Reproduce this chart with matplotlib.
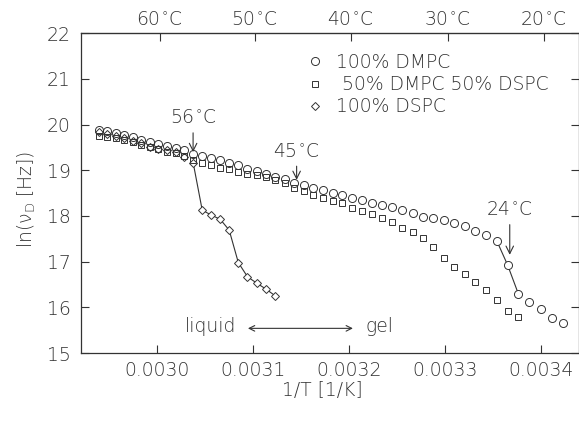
import numpy as np
import matplotlib
matplotlib.use("Agg")
import matplotlib.pyplot as plt

plt.rcParams['font.family'] = ['DejaVu Sans']
plt.rcParams['font.weight'] = 200
plt.rcParams['axes.labelweight'] = 200
plt.rcParams['mathtext.fontset'] = 'custom'
plt.rcParams['mathtext.rm'] = 'DejaVu Sans:weight=200'
plt.rcParams['mathtext.it'] = 'DejaVu Sans:italic:weight=200'

ink = '#333333'
fs = 13.5

# temperatures of each measured point (deg C), x axis is 1/T
temp_dmpc = [67, 66, 65, 64, 63, 62, 61, 60, 59, 58, 57, 56, 55, 54, 53, 52, 51,
             50, 49, 48, 47, 46, 45, 44, 43, 42, 41, 40, 39, 38, 37, 36, 35, 34,
             33, 32, 31, 30, 29, 28, 27, 26, 25, 24, 23, 22, 21, 20, 19]
ln_dmpc = [19.88, 19.86, 19.82, 19.77, 19.72, 19.67, 19.63, 19.58, 19.53, 19.49,
           19.44, 19.36, 19.31, 19.26, 19.22, 19.16, 19.11, 19.03, 18.98, 18.92,
           18.86, 18.80, 18.73, 18.68, 18.62, 18.57, 18.51, 18.46, 18.39, 18.35,
           18.29, 18.24, 18.20, 18.13, 18.06, 17.98, 17.95, 17.91, 17.84, 17.77,
           17.67, 17.58, 17.46, 16.93, 16.29, 16.11, 15.96, 15.77, 15.65]

temp_mix = [67, 66, 65, 64, 63, 62, 61, 60, 59, 58, 57, 56, 55, 54, 53, 52, 51,
            50, 49, 48, 47, 46, 45, 44, 43, 42, 41, 40, 39, 38, 37, 36, 35, 34,
            33, 32, 31, 30, 29, 28, 27, 26, 25, 24, 23]
ln_mix = [19.76, 19.74, 19.70, 19.66, 19.62, 19.56, 19.52, 19.47, 19.41, 19.37,
          19.31, 19.22, 19.15, 19.12, 19.05, 19.02, 18.97, 18.93, 18.89, 18.85,
          18.78, 18.72, 18.62, 18.55, 18.47, 18.39, 18.32, 18.28, 18.18, 18.11,
          18.04, 17.95, 17.87, 17.74, 17.66, 17.51, 17.33, 17.09, 16.89, 16.72,
          16.55, 16.37, 16.15, 15.91, 15.79]

temp_dspc = [67, 66, 65, 64, 63, 62, 61, 60, 59, 58, 57, 56, 55, 54, 53, 52, 51,
             50, 49, 48, 47]
ln_dspc = [19.84, 19.80, 19.76, 19.71, 19.65, 19.59, 19.51, 19.46, 19.44, 19.41,
           19.30, 19.15, 18.13, 18.02, 17.93, 17.69, 16.98, 16.67, 16.53, 16.40,
           16.25]

bottom_ticks = [0.0030, 0.0031, 0.0032, 0.0033, 0.0034]
top_tick_pos = [0.003003, 0.003102, 0.003202, 0.003303, 0.003403]
top_tick_labels = ['60$^{\\circ}$C', '50$^{\\circ}$C', '40$^{\\circ}$C',
                   '30$^{\\circ}$C', '20$^{\\circ}$C']


def inv_t(temps):
    return 1.0 / (np.array(temps, dtype=float) + 273.15)


x_dmpc = inv_t(temp_dmpc)
x_mix = inv_t(temp_mix)
x_dspc = inv_t(temp_dspc)
y_dmpc = np.array(ln_dmpc)
y_dspc = np.array(ln_dspc)

fig = plt.figure(figsize=(5.79, 4.28), dpi=100)
ax = fig.add_axes([0.1394, 0.1752, 0.8601, 0.747])

# connecting lines through the transitions (masked under the markers)
seg = slice(42, 45)
ax.plot(x_dmpc[seg], y_dmpc[seg], '-', color=ink, lw=0.8, zorder=1)
ax.plot(x_dmpc[seg], y_dmpc[seg], 'o', ms=5.8, mfc='white', mec='none', zorder=2)
seg2 = slice(11, None)
ax.plot(x_dspc[seg2], y_dspc[seg2], '-', color=ink, lw=0.8, zorder=1)
ax.plot(x_dspc[seg2], y_dspc[seg2], 'D', ms=3.9, mfc='white', mec='none', zorder=2)

ax.plot(x_dmpc, ln_dmpc, 'o', ms=5.8, mfc='none', mec=ink, mew=0.7, ls='none',
        zorder=3, label='100% DMPC')
ax.plot(x_mix, ln_mix, 's', ms=4.6, mfc='none', mec=ink, mew=0.7, ls='none',
        zorder=3, label=' 50% DMPC 50% DSPC')
ax.plot(x_dspc, ln_dspc, 'D', ms=3.9, mfc='none', mec=ink, mew=0.7, ls='none',
        zorder=3, label='100% DSPC')

ax.set_xlim(0.0029209, 0.0034394)
ax.set_ylim(15, 22)
ax.set_xticks(bottom_ticks)
ax.set_xticklabels(['%.4f' % t for t in bottom_ticks], fontweight=200)
ax.set_yticks(range(15, 23))
ax.set_yticklabels([str(v) for v in range(15, 23)], fontweight=200)
ax.tick_params(direction='in', length=6, width=0.8, colors=ink, labelsize=fs,
               top=False, right=True)
ax.tick_params(axis='x', pad=6)
ax.tick_params(axis='y', pad=7)
for s in ax.spines.values():
    s.set_color(ink)
    s.set_linewidth(0.9)

top = ax.secondary_xaxis('top')
top.set_xticks(top_tick_pos)
top.set_xticklabels(top_tick_labels, fontweight=200)
top.tick_params(direction='in', length=6, width=0.8, colors=ink, labelsize=fs, pad=3)

ax.set_xlabel('1/T [1/K]', fontsize=fs, color=ink, fontweight=200)
ax.xaxis.set_label_coords(0.4845, -0.088)
ax.set_ylabel('ln(ν$_{\\rm D}$ [Hz])', fontsize=fs, color=ink, fontweight=200)
ax.yaxis.set_label_coords(-0.086, 0.479)

leg = ax.legend(loc='upper left', bbox_to_anchor=(0.437, 0.962), frameon=False,
                numpoints=1, handlelength=1.0, handletextpad=0.6,
                labelspacing=0.17, fontsize=fs, borderaxespad=0)
for t in leg.get_texts():
    t.set_color(ink)

arrow = dict(arrowstyle='->', color=ink, lw=0.8, shrinkA=2, shrinkB=0)
ax.annotate('56$^{\\circ}$C', xy=(0.0030379, 19.40), xytext=(0.0030379, 20.15),
            ha='center', va='center', fontsize=fs, color=ink, arrowprops=arrow)
ax.annotate('45$^{\\circ}$C', xy=(0.0031457, 18.79), xytext=(0.0031457, 19.42),
            ha='center', va='center', fontsize=fs, color=ink, arrowprops=arrow)
ax.annotate('24$^{\\circ}$C', xy=(0.0033676, 17.15), xytext=(0.0033676, 18.14),
            ha='center', va='center', fontsize=fs, color=ink, arrowprops=arrow)

ax.annotate('', xy=(0.0030950, 15.54), xytext=(0.0032043, 15.54),
            arrowprops=dict(arrowstyle='<->', color=ink, lw=0.8,
                            shrinkA=0, shrinkB=0))
ax.text(0.0030830, 15.58, 'liquid', ha='right', va='center', fontsize=fs, color=ink)
ax.text(0.0032170, 15.58, 'gel', ha='left', va='center', fontsize=fs, color=ink)

fig.savefig('out.png', dpi=100)
